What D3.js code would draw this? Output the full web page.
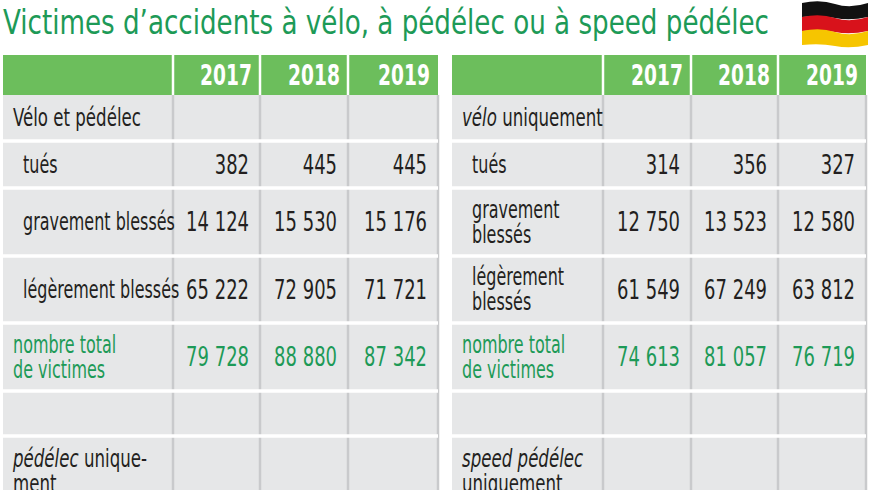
<!DOCTYPE html><html><head><meta charset="utf-8"><script src="https://cdn.jsdelivr.net/npm/d3@7"></script>
<style>body{margin:0;background:#fff}text{font-family:"Liberation Sans Narrow","DejaVu Sans Condensed",sans-serif}</style></head><body>
<svg id="c" width="870" height="490"></svg>
<script>
const years=["2017","2018","2019"];
const leftLabels=[["Vélo et pédélec"],["tués"],["gravement blessés"],["légèrement blessés"],["nombre total","de victimes"],[""],["pédélec unique-","ment"]];
const leftValues=[null,["382","445","445"],["14 124","15 530","15 176"],["65 222","72 905","71 721"],["79 728","88 880","87 342"],null,null];
const rightLabels=[["vélo uniquement"],["tués"],["gravement","blessés"],["légèrement","blessés"],["nombre total","de victimes"],[""],["speed pédélec","uniquement"]];
const rightValues=[null,["314","356","327"],["12 750","13 523","12 580"],["61 549","67 249","63 812"],["74 613","81 057","76 719"],null,null];
const rowKinds=["head","item","item","item","total","empty","head"];
const rowBounds=[95,141,188,256,323,391,436,500];
const svg=d3.select("#c");
const green="#1d9a57";
const SX=0.74;
svg.append("text").attr("x",3).attr("y",34).attr("fill",green).attr("font-size",33).attr("textLength",766).attr("lengthAdjust","spacingAndGlyphs").text("Victimes d’accidents à vélo, à pédélec ou à speed pédélec");
const fg=svg.append("g");
[["#111",3],["#d8121b",17],["#f6c500",31]].forEach(([c,y])=>fg.append("path").attr("d",`M802,${y} Q820,${y-4} 835,${y+1} T868,${y} L868,${y+14} Q850,${y+18} 835,${y+15} T802,${y+14} Z`).attr("fill",c));
function txt(g,x,y,size,fill,anchor){
  return g.append("text").attr("transform",`translate(${x},${y}) scale(${SX},1)`).attr("font-size",size).attr("fill",fill).attr("text-anchor",anchor||"start");
}
function table(cols,labels,values,ital){
  const g=svg.append("g");
  g.append("rect").attr("x",cols[0]).attr("y",55).attr("width",cols[4]-cols[0]).attr("height",40).attr("fill","#6cbe5c");
  g.append("rect").attr("x",cols[0]).attr("y",95).attr("width",cols[4]-cols[0]).attr("height",400).attr("fill","#e6e7e8");
  years.forEach((y,i)=>txt(g,cols[i+2]-8,85,28,"#fff","end").attr("font-weight","bold").text(y));
  for(let i=1;i<4;i++){
    g.append("line").attr("x1",cols[i]).attr("x2",cols[i]).attr("y1",55).attr("y2",95).attr("stroke","#fff").attr("stroke-width",2.5);
    g.append("line").attr("x1",cols[i]).attr("x2",cols[i]).attr("y1",95).attr("y2",490).attr("stroke","#c9cacc").attr("stroke-width",2.5);
  }
  g.append("line").attr("x1",cols[4]).attr("x2",cols[4]).attr("y1",95).attr("y2",490).attr("stroke","#c9cacc").attr("stroke-width",2.5);
  rowBounds.slice(0,-1).forEach((b,r)=>{
    if(r>0) g.append("line").attr("x1",cols[0]).attr("x2",cols[4]).attr("y1",b).attr("y2",b).attr("stroke","#fff").attr("stroke-width",3.5);
    const mid=(b+rowBounds[r+1])/2, kind=rowKinds[r];
    const lines=labels[r];
    const lx=cols[0]+(kind=="item"?20:10);
    const fill=kind=="total"?green:"#231f20";
    const y0=r==6?467:mid+8-(lines.length-1)*12.5;
    lines.forEach((l,k)=>{
      const t=txt(g,lx,y0+k*25,kind=="head"?25:24,fill);
      if(r==0&&ital.first){t.append("tspan").attr("font-style","italic").text(ital.first[0]);t.append("tspan").text(ital.first[1]);}
      else if(r==6&&k==0){t.append("tspan").attr("font-style","italic").text(ital.last[0]);t.append("tspan").text(ital.last[1]);}
      else t.text(l);
      if(r==0&&!ital.first) t.attr("font-size",25);
    });
    if(values[r]) values[r].forEach((v,i)=>txt(g,cols[i+2]-11,mid+9,27,fill,"end").text(v));
  });
}
table([3,173,260,348,438],leftLabels,leftValues,{first:null,last:["pédélec"," unique-"]});
table([452,603,691,778,866],rightLabels,rightValues,{first:["vélo"," uniquement"],last:["speed pédélec",""]});
</script></body></html>
